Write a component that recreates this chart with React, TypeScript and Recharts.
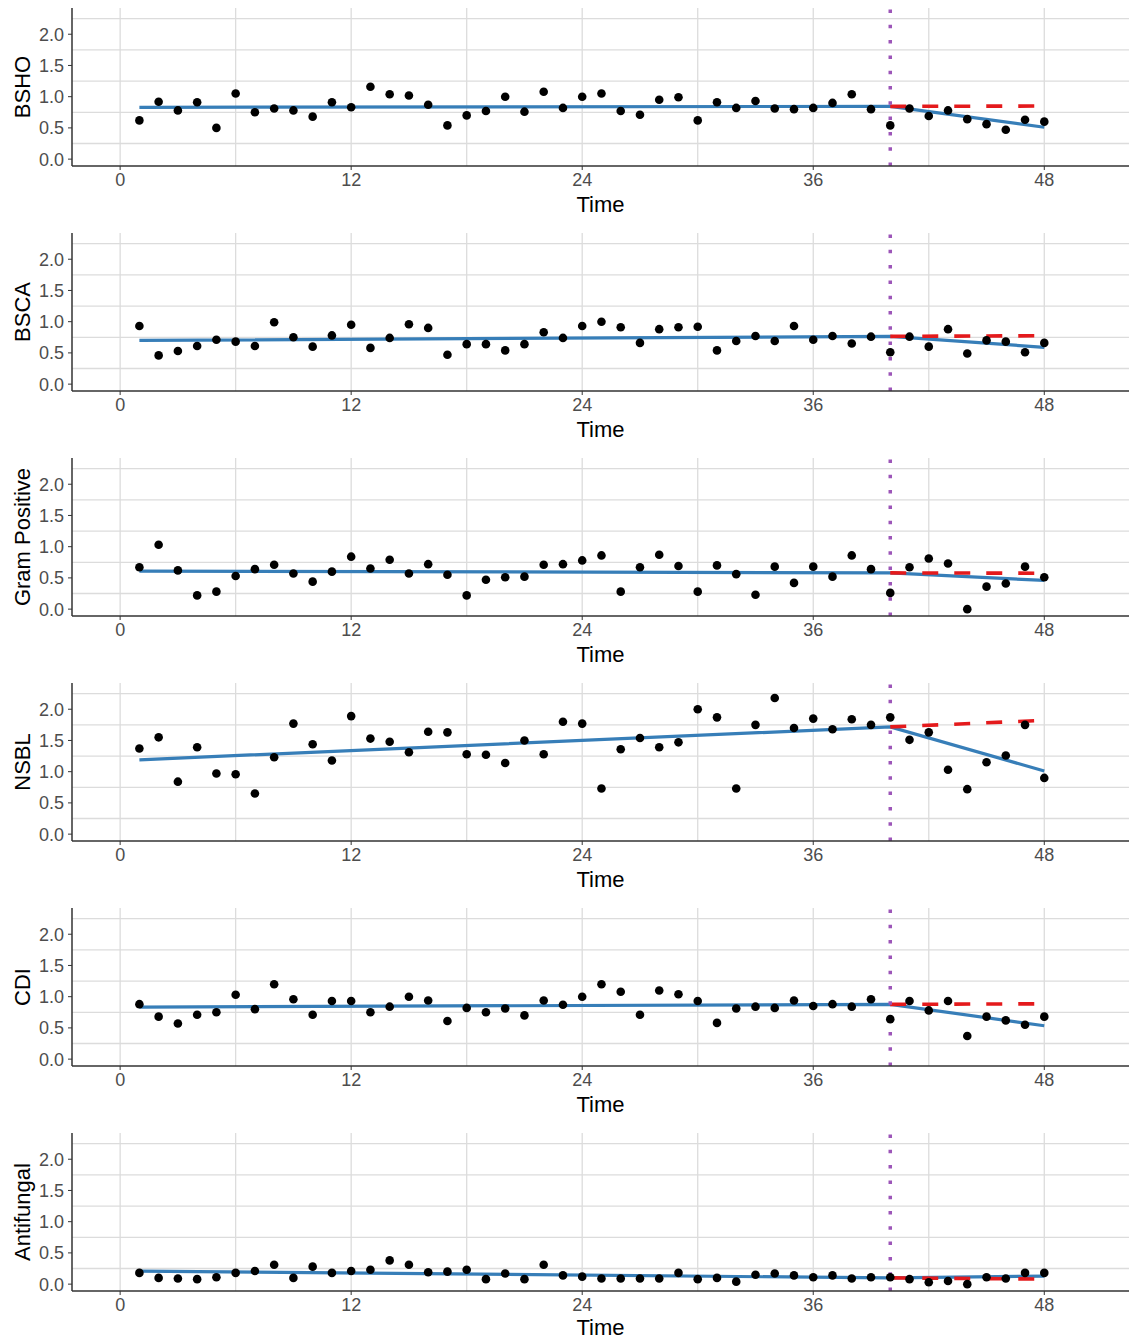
import {
  ComposedChart, Line, Scatter, XAxis, YAxis, CartesianGrid, ReferenceLine,
} from 'recharts';

// monthly time index
const time = [
  1, 2, 3, 4, 5, 6, 7, 8, 9, 10, 11, 12, 13, 14, 15, 16, 17, 18, 19, 20, 21, 22, 23, 24,
  25, 26, 27, 28, 29, 30, 31, 32, 33, 34, 35, 36, 37, 38, 39, 40, 41, 42, 43, 44, 45, 46, 47, 48,
];

const bsho = [
  0.62, 0.92, 0.78, 0.91, 0.5, 1.05, 0.75, 0.81, 0.78, 0.68, 0.91, 0.83, 1.16, 1.04, 1.02, 0.87,
  0.54, 0.7, 0.77, 1.0, 0.76, 1.08, 0.82, 1.0, 1.05, 0.77, 0.71, 0.95, 0.99, 0.62, 0.91, 0.82,
  0.93, 0.81, 0.8, 0.82, 0.9, 1.04, 0.8, 0.54, 0.81, 0.69, 0.78, 0.64, 0.56, 0.47, 0.63, 0.6,
];
const bsca = [
  0.93, 0.46, 0.53, 0.61, 0.71, 0.68, 0.61, 0.99, 0.75, 0.6, 0.78, 0.95, 0.58, 0.74, 0.96, 0.9,
  0.47, 0.64, 0.64, 0.54, 0.64, 0.83, 0.74, 0.93, 1.0, 0.91, 0.66, 0.88, 0.91, 0.92, 0.54, 0.69,
  0.77, 0.69, 0.93, 0.71, 0.77, 0.65, 0.76, 0.51, 0.76, 0.6, 0.88, 0.49, 0.7, 0.68, 0.51, 0.66,
];
const gramPositive = [
  0.67, 1.03, 0.62, 0.22, 0.28, 0.53, 0.64, 0.71, 0.57, 0.44, 0.6, 0.84, 0.65, 0.79, 0.57, 0.72,
  0.55, 0.22, 0.47, 0.51, 0.52, 0.71, 0.72, 0.78, 0.86, 0.28, 0.67, 0.87, 0.69, 0.28, 0.7, 0.56,
  0.23, 0.68, 0.42, 0.68, 0.52, 0.86, 0.64, 0.26, 0.67, 0.81, 0.73, 0.0, 0.36, 0.41, 0.68, 0.51,
];
const nsbl = [
  1.37, 1.55, 0.84, 1.39, 0.97, 0.96, 0.65, 1.23, 1.77, 1.44, 1.18, 1.89, 1.53, 1.48, 1.31, 1.64,
  1.63, 1.28, 1.27, 1.14, 1.5, 1.28, 1.8, 1.77, 0.73, 1.36, 1.54, 1.39, 1.47, 2.0, 1.87, 0.73,
  1.75, 2.18, 1.7, 1.85, 1.68, 1.84, 1.75, 1.87, 1.51, 1.63, 1.03, 0.72, 1.15, 1.26, 1.75, 0.9,
];
const cdi = [
  0.88, 0.68, 0.57, 0.71, 0.75, 1.03, 0.8, 1.2, 0.96, 0.71, 0.93, 0.93, 0.75, 0.84, 1.0, 0.94,
  0.61, 0.82, 0.75, 0.81, 0.7, 0.94, 0.87, 1.0, 1.2, 1.08, 0.71, 1.1, 1.04, 0.93, 0.58, 0.81,
  0.84, 0.82, 0.94, 0.85, 0.88, 0.84, 0.96, 0.64, 0.93, 0.78, 0.93, 0.37, 0.68, 0.62, 0.55, 0.68,
];
const antifungal = [
  0.18, 0.1, 0.09, 0.08, 0.11, 0.18, 0.21, 0.31, 0.1, 0.28, 0.18, 0.21, 0.23, 0.38, 0.31, 0.19,
  0.2, 0.23, 0.08, 0.17, 0.08, 0.31, 0.14, 0.12, 0.09, 0.09, 0.09, 0.09, 0.18, 0.08, 0.1, 0.04,
  0.15, 0.17, 0.14, 0.11, 0.14, 0.09, 0.11, 0.11, 0.08, 0.03, 0.05, 0.0, 0.11, 0.09, 0.18, 0.18,
];

// segmented fit (start, intervention, end) and counterfactual (intervention, end)
const fitTimes = [1, 40, 48];
const cfTimes = [40, 48];
const bshoFit = [0.83, 0.845, 0.51];
const bshoCf = [0.845, 0.85];
const bscaFit = [0.7, 0.765, 0.59];
const bscaCf = [0.765, 0.775];
const gramFit = [0.61, 0.58, 0.46];
const gramCf = [0.58, 0.575];
const nsblFit = [1.19, 1.717, 1.01];
const nsblCf = [1.717, 1.822];
const cdiFit = [0.834, 0.877, 0.535];
const cdiCf = [0.877, 0.886];
const antifungalFit = [0.209, 0.1, 0.128];
const antifungalCf = [0.1, 0.08];

const interventionTime = 40;
const xTicks = [0, 12, 24, 36, 48];
const yTicks = [0, 0.5, 1, 1.5, 2];
const xGrid = [0, 6, 12, 18, 24, 30, 36, 42, 48];
const yGrid = [0, 0.25, 0.5, 0.75, 1, 1.25, 1.5, 1.75, 2, 2.25];

const panels = [
  { label: 'BSHO', values: bsho, fit: bshoFit, cf: bshoCf },
  { label: 'BSCA', values: bsca, fit: bscaFit, cf: bscaCf },
  { label: 'Gram Positive', values: gramPositive, fit: gramFit, cf: gramCf },
  { label: 'NSBL', values: nsbl, fit: nsblFit, cf: nsblCf },
  { label: 'CDI', values: cdi, fit: cdiFit, cf: cdiCf },
  { label: 'Antifungal', values: antifungal, fit: antifungalFit, cf: antifungalCf },
];

const BLUE = '#377EB8';
const RED = '#E41A1C';
const PURPLE = '#9C55B8';
const GRID = '#dcdcdc';
const AXIS = '#333333';

const Dot = (props: any) => <circle cx={props.cx} cy={props.cy} r={4.3} fill="#000" />;

function Panel({ label, values, fit, cf, last }: any) {
  const points = time.map((t, i) => ({ t, y: values[i] }));
  const fitData = fitTimes.map((t, i) => ({ t, y: fit[i] }));
  const cfData = cfTimes.map((t, i) => ({ t, y: cf[i] }));

  return (
    <ComposedChart width={1129} height={225} margin={{ top: 8, right: 0, left: 0, bottom: 0 }}>
      <CartesianGrid
        stroke={GRID}
        strokeWidth={1.3}
        horizontalValues={yGrid}
        verticalValues={xGrid}
      />
      <XAxis
        type="number"
        dataKey="t"
        domain={[-2.5, 52.4]}
        ticks={xTicks}
        allowDataOverflow
        height={59}
        tick={{ fill: '#4d4d4d', fontSize: 18 }}
        tickSize={4}
        tickMargin={3}
        axisLine={{ stroke: AXIS, strokeWidth: 1.5 }}
        tickLine={{ stroke: AXIS }}
        label={{ value: 'Time', position: 'insideBottom', offset: last ? 15 : 13, fill: '#000', fontSize: 22 }}
      />
      <YAxis
        type="number"
        dataKey="y"
        domain={[-0.11, 2.42]}
        ticks={yTicks}
        allowDataOverflow
        width={72}
        tick={{ fill: '#4d4d4d', fontSize: 18 }}
        tickFormatter={(v) => v.toFixed(1)}
        tickSize={4}
        tickMargin={4}
        axisLine={{ stroke: AXIS, strokeWidth: 1.5 }}
        tickLine={{ stroke: AXIS }}
        label={{
          value: label,
          angle: -90,
          position: 'insideLeft',
          offset: 22,
          fill: '#000',
          fontSize: 22,
          style: { textAnchor: 'middle' },
        }}
      />
      <Line
        data={fitData}
        dataKey="y"
        type="linear"
        stroke={BLUE}
        strokeWidth={3.2}
        dot={false}
        activeDot={false}
        isAnimationActive={false}
      />
      <Line
        data={cfData}
        dataKey="y"
        type="linear"
        stroke={RED}
        strokeWidth={3.6}
        strokeDasharray="16 16"
        dot={false}
        activeDot={false}
        isAnimationActive={false}
      />
      <Scatter data={points} dataKey="y" shape={<Dot />} isAnimationActive={false} />
      <ReferenceLine
        x={interventionTime}
        stroke={PURPLE}
        strokeWidth={3.5}
        strokeDasharray="3.5 11.8"
      />
    </ComposedChart>
  );
}

export default function App() {
  return (
    <div
      style={{
        width: 1129,
        height: 1340,
        overflow: 'hidden',
        background: '#fff',
        fontFamily: '"Liberation Sans", Arial, sans-serif',
      }}
    >
      <style>{'body{margin:0}'}</style>
      {panels.map((p, i) => (
        <Panel key={p.label} {...p} last={i === panels.length - 1} />
      ))}
    </div>
  );
}
